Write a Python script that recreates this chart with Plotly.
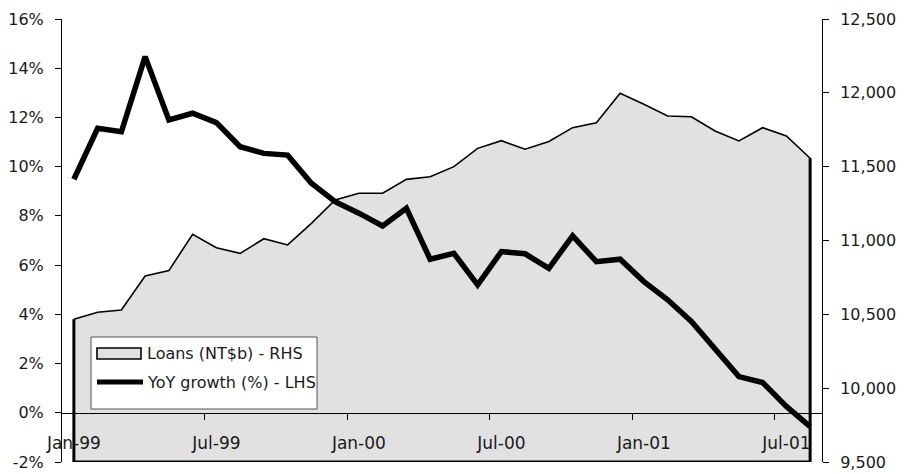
import plotly.graph_objects as go

# Monthly categories, Jan-99 to Aug-01
months = [
    "Jan-99", "Feb-99", "Mar-99", "Apr-99", "May-99", "Jun-99",
    "Jul-99", "Aug-99", "Sep-99", "Oct-99", "Nov-99", "Dec-99",
    "Jan-00", "Feb-00", "Mar-00", "Apr-00", "May-00", "Jun-00",
    "Jul-00", "Aug-00", "Sep-00", "Oct-00", "Nov-00", "Dec-00",
    "Jan-01", "Feb-01", "Mar-01", "Apr-01", "May-01", "Jun-01",
    "Jul-01", "Aug-01",
]

# Outstanding loans, NT$ billion (right-hand scale)
loans = [
    10466, 10514, 10529, 10760, 10796, 11042, 10951, 10913, 11012, 10970,
    11116, 11274, 11320, 11320, 11414, 11432, 11500, 11624, 11676, 11618,
    11671, 11764, 11798, 11997, 11922, 11843, 11838, 11742, 11674, 11764,
    11708, 11557,
]

# Year-on-year loan growth, % (left-hand scale)
yoy = [
    9.49, 11.56, 11.42, 14.47, 11.90, 12.17, 11.79, 10.81, 10.54, 10.47,
    9.33, 8.58, 8.11, 7.59, 8.31, 6.24, 6.48, 5.20, 6.55, 6.46,
    5.87, 7.19, 6.14, 6.24, 5.33, 4.59, 3.71, 2.63, 1.47, 1.23,
    0.26, -0.56,
]

series_names = ["Loans (NT$b) - RHS", "YoY growth (%) - LHS"]
label_months = months[::6]
lhs_ticks = [-2, 0, 2, 4, 6, 8, 10, 12, 14, 16]
rhs_ticks = [9500, 10000, 10500, 11000, 11500, 12000, 12500]

FONT = "DejaVu Sans"
INK = "#1a1a1a"
AREA_FILL = "#e1e1e1"

W, H = 919, 474
ML, MR, MT, MB = 62, 97, 19, 12
PW, PH = W - ML - MR, H - MT - MB

idx = list(range(len(months)))
lhs_range = [lhs_ticks[0], lhs_ticks[-1]]
rhs_range = [rhs_ticks[0], rhs_ticks[-1]]
floor = rhs_range[0]
n = len(months)

fig = go.Figure()

# Loans: shaded area down to the bottom of the right-hand scale
fig.add_trace(go.Scatter(
    x=idx + [idx[-1], idx[0]],
    y=loans + [floor, floor],
    mode="lines",
    fill="toself",
    fillcolor=AREA_FILL,
    line=dict(color="black", width=1.6),
    name=series_names[0],
    showlegend=False,
    xaxis="x", yaxis="y",
    hoverinfo="skip",
))
# Heavier outline along the sides and base of the area
fig.add_trace(go.Scatter(
    x=[idx[0], idx[0], idx[-1], idx[-1]],
    y=[loans[0], floor, floor, loans[-1]],
    mode="lines",
    line=dict(color="black", width=3),
    showlegend=False,
    xaxis="x", yaxis="y",
    hoverinfo="skip",
))
# YoY growth line
fig.add_trace(go.Scatter(
    x=months,
    y=yoy,
    mode="lines",
    line=dict(color="black", width=5.5),
    name=series_names[1],
    showlegend=False,
    xaxis="x2", yaxis="y2",
    hoverinfo="skip",
))


# Legend box drawn in pixel units relative to the plot area
def px_x(px):
    return (px - ML) / PW


def px_y(py):
    return (H - MB - py) / PH


shapes = [
    dict(type="rect", xref="paper", yref="paper",
         x0=px_x(91), x1=px_x(317), y0=px_y(409), y1=px_y(337),
         fillcolor="white", line=dict(color="#555555", width=1), layer="above"),
    dict(type="rect", xref="paper", yref="paper",
         x0=px_x(97), x1=px_x(141), y0=px_y(359), y1=px_y(348),
         fillcolor=AREA_FILL, line=dict(color="black", width=1.6), layer="above"),
    dict(type="line", xref="paper", yref="paper",
         x0=px_x(97), x1=px_x(143), y0=px_y(382), y1=px_y(382),
         line=dict(color="black", width=5), layer="above"),
]
annotations = [
    dict(xref="paper", yref="paper", x=px_x(145), y=px_y(353.5),
         text=series_names[0], showarrow=False, xanchor="left", yanchor="middle",
         font=dict(family=FONT, size=16, color=INK)),
    dict(xref="paper", yref="paper", x=px_x(145), y=px_y(382),
         text=series_names[1], showarrow=False, xanchor="left", yanchor="middle",
         font=dict(family=FONT, size=16, color=INK)),
]

zero_pos = (0 - lhs_range[0]) / (lhs_range[1] - lhs_range[0])

fig.update_layout(
    width=W, height=H,
    margin=dict(l=ML, r=MR, t=MT, b=MB, autoexpand=False),
    paper_bgcolor="white",
    plot_bgcolor="white",
    font=dict(family=FONT, size=16, color=INK),
    showlegend=False,
    hovermode=False,
    shapes=shapes,
    annotations=annotations,
    # Tick marks sit on month boundaries along the zero line
    xaxis=dict(
        type="linear",
        range=[-0.5, n - 0.5],
        anchor="free", position=zero_pos,
        showline=True, linecolor="black", linewidth=1,
        tickmode="array",
        tickvals=[i - 0.5 for i in range(6, n, 6)],
        ticks="outside", ticklen=6, tickcolor="black", tickwidth=1,
        showticklabels=False,
        showgrid=False, zeroline=False,
        automargin=False,
    ),
    # Month labels centred on their categories
    xaxis2=dict(
        type="category",
        categoryorder="array", categoryarray=months,
        range=[-0.5, n - 0.5],
        overlaying="x",
        anchor="free", position=zero_pos,
        showline=False,
        ticks="",
        tickmode="array", tickvals=label_months, ticktext=label_months,
        tickfont=dict(family=FONT, size=17, color=INK),
        ticklabelstandoff=18,
        showgrid=False, zeroline=False,
        automargin=False,
    ),
    yaxis=dict(
        side="right",
        anchor="x",
        range=rhs_range,
        tickmode="array",
        tickvals=rhs_ticks,
        ticktext=[f"{v:,}" for v in rhs_ticks],
        ticks="outside", ticklen=6, tickcolor="black",
        showline=True, linecolor="black", linewidth=1,
        ticklabelstandoff=8,
        showgrid=False, zeroline=False,
        automargin=False,
    ),
    yaxis2=dict(
        side="left",
        overlaying="y",
        anchor="x2",
        range=lhs_range,
        tickmode="array",
        tickvals=lhs_ticks,
        ticktext=[f"{v}%" for v in lhs_ticks],
        ticks="outside", ticklen=6, tickcolor="black",
        showline=True, linecolor="black", linewidth=1,
        ticklabelstandoff=8,
        showgrid=False, zeroline=False,
        automargin=False,
    ),
)

fig.write_html("out.html")
